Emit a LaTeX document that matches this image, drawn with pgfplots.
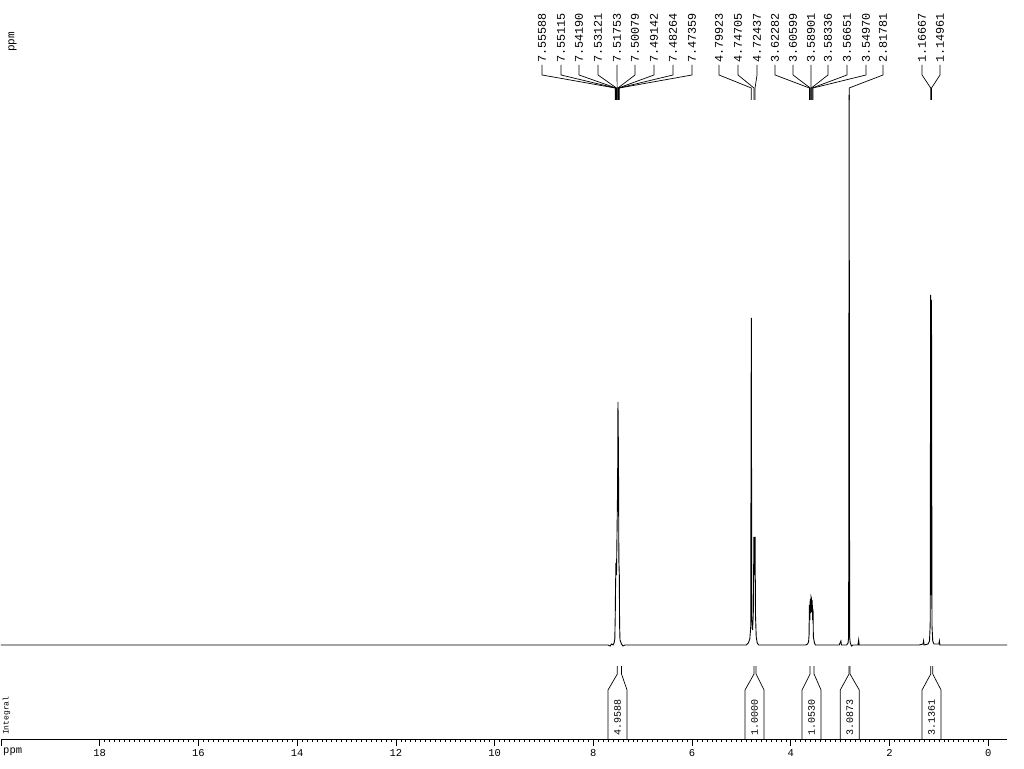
\documentclass[border=0pt]{standalone}
\usepackage{pgfplots}
\pgfplotsset{compat=1.18}
\usepackage{fontspec}
\setmainfont{Liberation Mono}
\tikzset{
  lead/.style={black, line width=0.7pt},
  lbl/.style={rotate=90, anchor=west, inner sep=0pt, font=\fontsize{11.8}{13}\selectfont},
  intl/.style={rotate=90, anchor=west, inner sep=0pt, font=\fontsize{10}{11}\selectfont},
}
\newcommand{\peaklabel}[2]{%
  \addplot[lead] coordinates {(#1,580) (#1,570) (#2,557) (#2,545)};
  \node[lbl] at (axis cs:#1,582) {#2};
}
\newcommand{\integ}[6]{%
  \addplot[lead] coordinates {(#1,-21) (#1,-29) (#3,-45) (#3,-94)};
  \addplot[lead] coordinates {(#2,-21) (#2,-29) (#4,-45) (#4,-94)};
  \node[intl] at (axis cs:#5,-91) {#6};
}
\begin{document}
\begin{tikzpicture}
\begin{axis}[
  scale only axis, width=1006pt, height=739pt,
  xmin=-0.38, xmax=20, ymin=-94, ymax=645,
  x dir=reverse,
  axis x line*=bottom, axis y line=none,
  xtick={0,2,...,18}, extra x ticks={20}, extra x tick labels={},
  minor x tick num=19,
  tick align=outside,
  major tick length=7pt, minor tick length=3pt,
  tick style={black, line width=0.6pt},
  x axis line style={black, line width=0.7pt},
  xticklabel style={font=\fontsize{10.5}{12}\selectfont},
  /pgf/number format/assume math mode=true,
  clip=false,
]
% spectrum
\addplot[black, line width=0.9pt] coordinates {
(20,0) (7.70,0) (7.66,-1) (7.63,1) (7.60,0) (7.58,2) (7.565,6) (7.556,30) (7.551,55)
(7.542,82) (7.531,70) (7.518,120) (7.508,160) (7.501,243) (7.491,190) (7.483,85)
(7.474,70) (7.468,20) (7.46,5) (7.43,1) (7.40,-1) (7.36,0)
(4.90,0) (4.86,2) (4.83,6) (4.812,18) (4.80,327) (4.79,25) (4.775,15) (4.760,30)
(4.747,108) (4.737,70) (4.724,108) (4.715,30) (4.70,8) (4.68,2) (4.65,0)
(3.70,0) (3.66,1) (3.64,3) (3.630,10) (3.623,40) (3.615,25) (3.606,46) (3.598,32)
(3.589,48) (3.5835,47) (3.575,33) (3.5665,45) (3.558,25) (3.5497,36) (3.543,8)
(3.52,2) (3.50,0)
(3.02,0) (2.985,4) (2.975,0) (2.87,0) (2.84,2) (2.828,8) (2.8178,550) (2.808,8)
(2.795,2) (2.77,-1) (2.74,0) (2.64,0) (2.625,5) (2.615,0)
(1.40,0) (1.32,1) (1.31,4) (1.30,0) (1.22,1) (1.19,4) (1.176,20) (1.1667,350)
(1.158,50) (1.1496,345) (1.140,20) (1.125,4) (1.10,1) (1.00,1) (0.99,4) (0.98,0)
(-0.38,0)
};
% peak labels
\peaklabel{9.040}{7.55588}
\peaklabel{8.655}{7.55115}
\peaklabel{8.290}{7.54190}
\peaklabel{7.905}{7.53121}
\peaklabel{7.520}{7.51753}
\peaklabel{7.156}{7.50079}
\peaklabel{6.771}{7.49142}
\peaklabel{6.386}{7.48264}
\peaklabel{6.001}{7.47359}
\peaklabel{5.454}{4.79923}
\peaklabel{5.069}{4.74705}
\peaklabel{4.684}{4.72437}
\peaklabel{4.319}{3.62282}
\peaklabel{3.955}{3.60599}
\peaklabel{3.590}{3.58901}
\peaklabel{3.246}{3.58336}
\peaklabel{2.861}{3.56651}
\peaklabel{2.476}{3.54970}
\peaklabel{2.131}{2.81781}
\peaklabel{1.341}{1.16667}
\peaklabel{0.977}{1.14961}
% integrals
\integ{7.514}{7.429}{7.703}{7.318}{7.51}{4.9588}
\integ{4.745}{4.704}{4.927}{4.542}{4.735}{1.0000}
\integ{3.610}{3.529}{3.772}{3.387}{3.58}{1.0530}
\integ{2.820}{2.800}{2.998}{2.613}{2.806}{3.0873}
\integ{1.165}{1.124}{1.341}{0.956}{1.149}{3.1361}
% side texts
\node[rotate=90, anchor=west, inner sep=0pt, font=\fontsize{11}{12}\selectfont] at (axis cs:19.767,593) {ppm};
\node[rotate=90, anchor=west, inner sep=0pt, font=\fontsize{8}{9}\selectfont] at (axis cs:19.889,-90) {Integral};
\coordinate (A) at (rel axis cs:0,0);
\end{axis}
\node[anchor=north west, inner sep=0pt, font=\fontsize{10.5}{12}\selectfont] at ([shift={(2pt,-9pt)}]A) {ppm};
\pgfresetboundingbox
\path[use as bounding box] ([shift={(-1pt,-29pt)}]A) rectangle ([shift={(1023pt,739pt)}]A);
\end{tikzpicture}
\end{document}
